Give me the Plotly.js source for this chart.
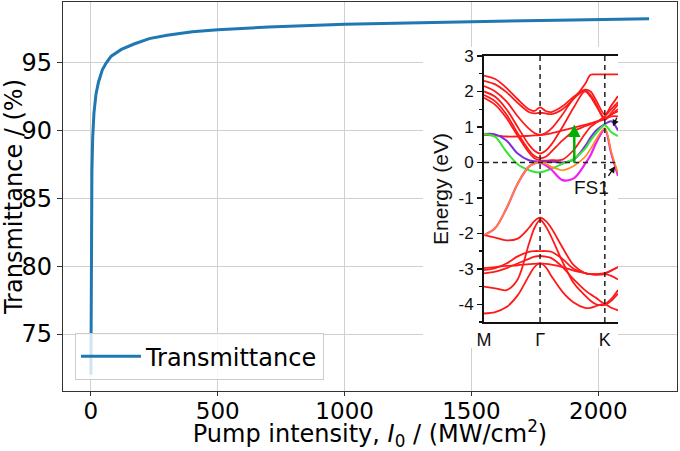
<!DOCTYPE html>
<html><head><meta charset="utf-8">
<script src="https://cdn.plot.ly/plotly-3.0.1.min.js"></script>
<style>body{margin:0;padding:0;background:#fff}#chart{width:680px;height:451px}</style>
</head><body><div id="chart"></div>
<script>
// ---- main curve: transmittance vs pump intensity ----
const pumpIntensity = [0, 1, 2, 4, 7, 12, 20, 30, 45, 60, 80, 120, 170, 230, 300, 400, 500, 700, 1000, 1300, 1600, 1900, 2200];
const transmittance = [72.0, 78.0, 83.0, 87.0, 89.5, 91.3, 92.7, 93.6, 94.5, 95.0, 95.5, 96.0, 96.4, 96.8, 97.05, 97.3, 97.45, 97.65, 97.85, 97.98, 98.08, 98.18, 98.27];
const xTicks = [0, 500, 1000, 1500, 2000];
const yTicks = [75, 80, 85, 90, 95];

// ---- inset: band structure along M - Gamma - K ----
const kPath = [0, 0.2, 0.4, 0.6, 0.8, 0.9, 1.0, 1.1, 1.2, 1.4, 1.6, 1.8, 1.9, 2.0, 2.155, 2.27, 2.39];
const kSymPos = [0, 1, 2.155];
const kSymLabels = ['M', 'Γ', 'K'];
const energyTicks = [-4, -3, -2, -1, 0, 1, 2, 3];
const energyTickText = ['-4', '-3', '-2', '-1', '0', '1', '2', '3'];

const cond1 = [2.45, 2.35, 2.1, 1.78, 1.5, 1.45, 1.55, 1.45, 1.42, 1.58, 1.85, 2.05, 2.0, 1.75, 1.35, 1.6, 1.87];
const cond2 = [2.3, 2.2, 1.98, 1.68, 1.42, 1.38, 1.4, 1.38, 1.36, 1.5, 1.8, 2.2, 2.47, 2.48, 2.48, 2.48, 2.48];
const cond3 = [2.15, 2.0, 1.72, 1.3, 0.95, 0.83, 0.78, 0.83, 0.95, 1.35, 1.8, 2.02, 1.9, 1.65, 1.2, 1.4, 1.63];
const cond4 = [2.0, 1.85, 1.5, 1.0, 0.5, 0.33, 0.25, 0.33, 0.5, 1.0, 1.55, 2.0, 1.85, 1.6, 1.25, 1.35, 1.44];
const cond5 = [1.9, 1.72, 1.35, 0.82, 0.35, 0.18, 0.12, 0.16, 0.3, 0.62, 0.88, 1.02, 1.08, 1.14, 1.22, 1.3, 1.3];
const cond6 = [0.78, 0.76, 0.73, 0.73, 0.75, 0.76, 0.77, 0.79, 0.82, 0.9, 0.98, 1.06, 1.1, 1.15, 1.24, 1.35, 1.5];
const cond7 = [1.82, 1.62, 1.25, 0.75, 0.28, 0.12, 0.06, 0.05, 0.06, 0.08, 0.35, 0.8, 1.0, 1.12, 1.3, 1.5, 1.7];

const val1 = [-2.05, -2.12, -2.2, -2.15, -1.85, -1.65, -1.56, -1.65, -1.85, -2.4, -2.9, -3.12, -3.15, -3.15, -3.12, -3.05, -2.95];
const val2 = [-3.5, -3.55, -3.6, -3.3, -2.3, -1.85, -1.62, -1.8, -2.1, -2.8, -3.4, -3.75, -3.9, -4.0, -4.02, -3.9, -3.7];
const val3 = [-4.26, -4.22, -4.08, -3.75, -3.2, -2.95, -2.85, -2.95, -3.2, -3.65, -3.95, -4.1, -4.1, -4.05, -4.0, -4.1, -4.17];
const val4 = [-3.04, -2.98, -2.85, -2.65, -2.52, -2.5, -2.5, -2.5, -2.52, -2.72, -3.0, -3.12, -3.15, -3.15, -3.15, -3.2, -3.3];
const val5 = [-3.13, -3.08, -2.98, -2.85, -2.72, -2.66, -2.64, -2.66, -2.7, -2.95, -3.3, -3.6, -3.72, -3.82, -3.98, -3.85, -3.6];
const val6 = [-2.98, -2.95, -2.92, -2.9, -2.87, -2.86, -2.85, -2.86, -2.88, -2.95, -3.05, -3.12, -3.15, -3.17, -3.15, -3.05, -2.95];

const bandPurple = [0.8, 0.79, 0.62, 0.25, 0.06, 0.03, 0.02, 0.02, 0.02, 0.0, 0.08, 0.45, 0.7, 0.9, 1.08, 1.16, 0.9];
const bandGreen = [0.8, 0.72, 0.3, -0.05, -0.22, -0.27, -0.28, -0.24, -0.18, -0.04, 0.1, 0.38, 0.62, 0.82, 1.05, 0.85, 0.74];
const bandOrange = [-2.05, -1.85, -1.3, -0.6, -0.12, -0.03, 0.0, -0.04, -0.12, -0.22, -0.1, 0.15, 0.38, 0.65, 0.97, 0.3, -0.3];
const bandMagenta = [-2.05, -1.85, -1.3, -0.6, -0.12, -0.03, 0.0, -0.08, -0.2, -0.5, -0.45, -0.05, 0.2, 0.55, 0.93, 0.25, -0.38];

const energyRange = [-4.5, 3];
const kRange = [0, 2.39];

const redBands = [cond1, cond2, cond3, cond4, cond5, cond6, cond7, val1, val2, val3, val4, val5, val6];

const traces = [];
traces.push({
  x: pumpIntensity, y: transmittance, type: 'scatter', mode: 'lines', name: 'Transmittance',
  line: {color: '#1f77b4', width: 3}, xaxis: 'x', yaxis: 'y'
});
// empty trace for the white inset backing panel
traces.push({x: [], y: [], type: 'scatter', mode: 'lines', xaxis: 'x2', yaxis: 'y2', showlegend: false, hoverinfo: 'skip'});

function band(y, color, w) {
  return {x: kPath, y: y, type: 'scatter', mode: 'lines', xaxis: 'x3', yaxis: 'y3', showlegend: false,
          hoverinfo: 'skip', line: {color: color, width: w, shape: 'spline', smoothing: 0.9}};
}
redBands.forEach(b => traces.push(band(b, '#ff1a1a', 1.8)));
traces.push(band(bandPurple, '#7a2ee0', 2));
traces.push(band(bandGreen, '#33e633', 2));
traces.push(band(bandMagenta, '#f020f0', 2.2));
traces.push(band(bandOrange, '#ff8a1a', 1.6));

// dashed guides at the symmetry points and at the Fermi level
[kSymPos[1], kSymPos[2]].forEach(k => traces.push({
  x: [k, k], y: energyRange, type: 'scatter', mode: 'lines', xaxis: 'x3', yaxis: 'y3', showlegend: false,
  hoverinfo: 'skip', line: {color: '#222', width: 1.5, dash: '5px,4px'}
}));
traces.push({
  x: kRange, y: [0, 0], type: 'scatter', mode: 'lines', xaxis: 'x3', yaxis: 'y3', showlegend: false,
  hoverinfo: 'skip', line: {color: '#222', width: 1.5, dash: '5px,4px'}
});

const mainFont = {family: 'DejaVu Sans', size: 24, color: '#000'};
const tickFontMain = {family: 'DejaVu Sans', size: 23, color: '#000'};
const insetFont = {family: 'Liberation Sans, Arial, sans-serif', size: 17, color: '#111'};

const layout = {
  width: 680, height: 451,
  margin: {l: 63, r: 3, t: 2, b: 60},
  paper_bgcolor: '#fff', plot_bgcolor: '#fff',
  showlegend: true,
  xaxis: {
    domain: [0, 1], range: [-110, 2310], tickvals: xTicks, ticktext: xTicks.map(String),
    showgrid: true, gridcolor: '#d0d0d0', gridwidth: 1, zeroline: false,
    showline: true, mirror: true, linecolor: '#333', linewidth: 1.2,
    ticks: 'outside', ticklen: 4, tickcolor: '#333', tickfont: tickFontMain, ticklabelstandoff: -5,
    title: {text: 'Pump intensity, <i>I</i><sub>0</sub> / (MW/cm<sup>2</sup>)', font: mainFont, standoff: 8}
  },
  yaxis: {
    domain: [0, 1], range: [70.8, 99.5], tickvals: yTicks, ticktext: yTicks.map(String),
    showgrid: true, gridcolor: '#d0d0d0', gridwidth: 1, zeroline: false,
    showline: true, mirror: true, linecolor: '#333', linewidth: 1.2,
    ticks: 'outside', ticklen: 5, tickcolor: '#333', tickfont: mainFont,
    title: {text: 'Transmittance / (%)', font: mainFont, standoff: 3}
  },
  xaxis2: {domain: [0.5863, 0.9039], anchor: 'y2', visible: false, range: [0, 1]},
  yaxis2: {domain: [0.1105, 0.8843], anchor: 'x2', visible: false, range: [0, 1]},
  xaxis3: {
    domain: [0.6857, 0.9039], anchor: 'y3', range: kRange,
    tickvals: kSymPos, ticktext: kSymLabels, ticks: '', tickfont: {family: 'Liberation Sans, Arial, sans-serif', size: 18, color: '#111'},
    showgrid: false, zeroline: false, showline: true, mirror: true, linecolor: '#111', linewidth: 2
  },
  yaxis3: {
    domain: [0.1774, 0.8612], anchor: 'x3', range: energyRange,
    tickvals: energyTicks, ticktext: energyTickText, ticks: 'outside', ticklen: 5, tickwidth: 1.5, tickcolor: '#111',
    minor: {dtick: 0.5, tick0: 0, ticks: 'outside', ticklen: 3, tickwidth: 1.2, tickcolor: '#111', showgrid: false},
    tickfont: insetFont, showgrid: false, zeroline: false, showline: true, mirror: false, linecolor: '#111', linewidth: 2,
    title: {text: 'Energy (eV)', font: {family: 'Liberation Sans, Arial, sans-serif', size: 21, color: '#111'}, standoff: 4}
  },
  legend: {
    x: 0.0195, y: 0.028, xanchor: 'left', yanchor: 'bottom',
    bgcolor: 'rgba(255,255,255,0.8)', bordercolor: '#cccccc', borderwidth: 1,
    font: mainFont, itemwidth: 60
  },
  annotations: [
    {xref: 'x3', yref: 'y3', axref: 'x3', ayref: 'y3', x: 1.61, y: 1.07, ax: 1.61, ay: -0.05, text: '',
     showarrow: true, arrowhead: 2, arrowsize: 1, arrowwidth: 2.5, arrowcolor: '#00b000', standoff: 0, startstandoff: 0},
    {xref: 'x3', yref: 'y3', axref: 'x3', ayref: 'y3', x: 2.34, y: -0.11, ax: 2.2, ay: -0.42, text: '',
     showarrow: true, arrowhead: 2, arrowsize: 1, arrowwidth: 1.3, arrowcolor: '#111', standoff: 0, startstandoff: 0},
    {xref: 'x3', yref: 'y3', axref: 'x3', ayref: 'y3', x: 2.3, y: 1.02, ax: 2.38, ay: 1.3, text: '',
     showarrow: true, arrowhead: 2, arrowsize: 1, arrowwidth: 1.3, arrowcolor: '#111', standoff: 0, startstandoff: 0},
    {xref: 'x3', yref: 'y3', x: 1.91, y: -0.71, text: 'FS1', showarrow: false,
     font: {family: 'Liberation Sans, Arial, sans-serif', size: 19, color: '#111'}}
  ]
};

Plotly.newPlot('chart', traces, layout, {displayModeBar: false, staticPlot: true});
</script>
</body></html>
